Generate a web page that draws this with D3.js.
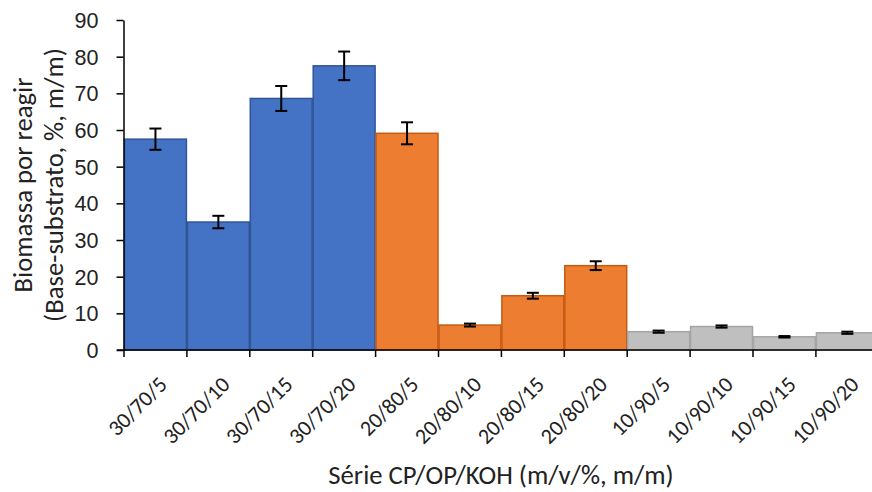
<!DOCTYPE html>
<html><head><meta charset="utf-8">
<script src="https://cdn.jsdelivr.net/npm/d3@7"></script>
<style>body{margin:0;background:#fff;} svg{display:block;font-family:Carlito,Lato,sans-serif;}</style>
</head><body>
<svg id="c" width="872" height="492"></svg>
<script>
const categories = ["30/70/5","30/70/10","30/70/15","30/70/20","20/80/5","20/80/10","20/80/15","20/80/20","10/90/5","10/90/10","10/90/15","10/90/20"];
const values = [57.5, 34.9, 68.6, 77.5, 59.1, 6.8, 14.8, 23.0, 5.0, 6.4, 3.6, 4.7];
const errors = [2.9, 1.7, 3.4, 3.9, 3.0, 0.4, 0.8, 1.2, 0.3, 0.3, 0.2, 0.3];
const groups = ["30/70","30/70","30/70","30/70","20/80","20/80","20/80","20/80","10/90","10/90","10/90","10/90"];
const groupNames = ["30/70","20/80","10/90"];
const fills = ["#4472C4","#ED7D31","#BFBFBF"];
const strokes = ["#2F5597","#C55A11","#A5A5A5"];
const yTicks = [0,10,20,30,40,50,60,70,80,90];

const FSY = 21.5, FSX = 22, TS = 26.7;
const svg = d3.select("#c");
const x0 = 124, bandW = 62.9;
const x = d3.scaleBand().domain(categories).range([x0, x0 + bandW*categories.length]).padding(0);
const y = d3.scaleLinear().domain([0,90]).range([350,20]);
const fillS = d3.scaleOrdinal().domain(groupNames).range(fills);
const strokeS = d3.scaleOrdinal().domain(groupNames).range(strokes);

// bars
svg.append("g").selectAll("rect").data(categories).join("rect")
  .attr("x", d => x(d)+0.5)
  .attr("y", (d,i) => y(values[i]))
  .attr("width", x.bandwidth()-1)
  .attr("height", (d,i) => y(0)-y(values[i]))
  .attr("fill", (d,i) => fillS(groups[i]))
  .attr("stroke", (d,i) => strokeS(groups[i]))
  .attr("stroke-width", 1.5);

// error bars
const eb = svg.append("g").attr("stroke","#000").attr("stroke-width",2);
categories.forEach((c,i) => {
  const cx = x(c) + x.bandwidth()/2;
  const t = y(values[i]+errors[i]), b = y(values[i]-errors[i]);
  eb.append("line").attr("x1",cx).attr("x2",cx).attr("y1",t).attr("y2",b);
  eb.append("line").attr("x1",cx-6).attr("x2",cx+6).attr("y1",t).attr("y2",t);
  eb.append("line").attr("x1",cx-6).attr("x2",cx+6).attr("y1",b).attr("y2",b);
});

// y axis
const ya = svg.append("g").attr("transform",`translate(${x0-0.5},0)`)
  .call(d3.axisLeft(y).tickValues(yTicks).tickSize(7).tickSizeOuter(0).tickPadding(18));
ya.select(".domain").attr("stroke","#000").attr("stroke-width",1.5);
ya.selectAll(".tick line").attr("stroke","#000").attr("stroke-width",1.5);
ya.selectAll("text").attr("font-size",FSY).attr("fill","#222").attr("font-family",null).attr("dy","0.35em");

// x axis line & ticks at band edges
const xa = svg.append("g");
xa.append("line").attr("x1",x0-7).attr("x2",872).attr("y1",y(0)).attr("y2",y(0)).attr("stroke","#000").attr("stroke-width",1.5);
const edges = categories.map(c => x(c)).concat([x0 + bandW*categories.length]);
xa.selectAll("line.t").data(edges).join("line").attr("class","t")
  .attr("x1",d=>d).attr("x2",d=>d).attr("y1",y(0)).attr("y2",y(0)+7)
  .attr("stroke","#000").attr("stroke-width",1.5);
xa.selectAll("text").data(categories).join("text")
  .attr("transform", d => `translate(${x(d)+x.bandwidth()/2+2},${y(0)+25}) rotate(-45)`)
  .attr("text-anchor","end").attr("dy","0.7em")
  .attr("font-size",FSX).attr("fill","#222")
  .text(d=>d);

// axis titles
svg.append("text").attr("x",501).attr("y",484).attr("text-anchor","middle")
  .attr("font-size",TS).attr("fill","#222").text("Série CP/OP/KOH (m/v/%, m/m)");
const yt = svg.append("text").attr("transform","translate(0,185) rotate(-90)")
  .attr("text-anchor","middle").attr("font-size",TS).attr("fill","#222");
yt.append("tspan").attr("x",0).attr("y",32).text("Biomassa por reagir");
yt.append("tspan").attr("x",0).attr("y",63).text("(Base-substrato, %, m/m)");
</script>
</body></html>
